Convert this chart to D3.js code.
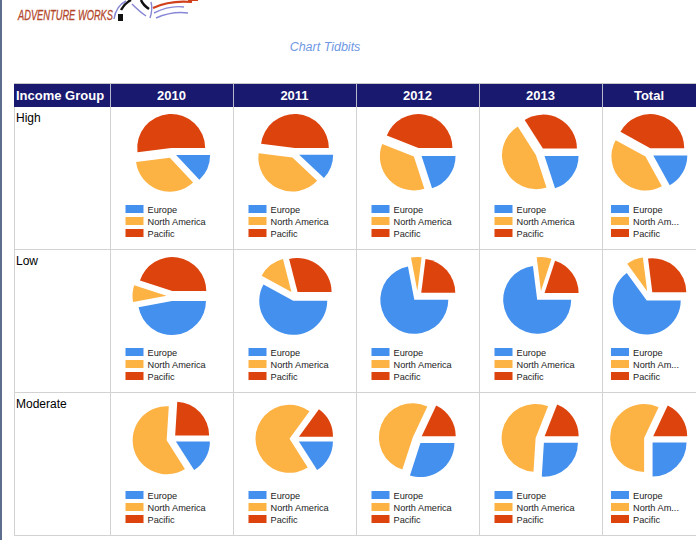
<!DOCTYPE html>
<html>
<head>
<meta charset="utf-8">
<script src="https://cdn.jsdelivr.net/npm/d3@7"></script>
<style>
  body { margin: 0; background: #fff; }
  svg { display: block; font-family: "Liberation Sans", Arial, sans-serif; }
</style>
</head>
<body>
<svg id="chart"></svg>
<script>
// data
const regions = ["Europe", "North America", "Pacific"];
const columns = ["2010", "2011", "2012", "2013", "Total"];
const groups = ["High", "Low", "Moderate"];

// shares per column, in region order [Europe, North America, Pacific]
const highShares = [[13, 35, 52], [12, 40, 48], [20, 36, 44], [20, 46, 34], [17, 41, 42]];
const lowShares = [[47, 8, 45], [58, 13, 29], [72, 5, 23], [73, 7, 20], [65, 8, 27]];
const moderateShares = [[16, 60, 24], [16, 69, 15], [30, 52, 18], [26, 55, 19], [25, 57, 18]];
const sharesByGroup = [highShares, lowShares, moderateShares];

const colors = ["#4390ee", "#fdb244", "#dd430d"];

const width = 696, height = 540;
const svg = d3.select("#chart").attr("width", width).attr("height", height);

const color = d3.scaleOrdinal().domain(regions).range(colors);

// table layout
const colEdges = [14, 110, 233, 356, 479, 602, 696];
const headerTop = 84, headerBottom = 107;
const y = d3.scaleBand().domain(groups).range([107, 536]);

// left window edge
svg.append("rect").attr("x", 0).attr("y", 0).attr("width", 2).attr("height", height).attr("fill", "#5d6d8e");

// logo
const logo = svg.append("g");
logo.append("text")
  .attr("x", 18).attr("y", 20)
  .attr("textLength", 95).attr("lengthAdjust", "spacingAndGlyphs")
  .attr("font-size", 14).attr("font-style", "italic")
  .attr("fill", "#b4472b").attr("stroke", "#b4472b").attr("stroke-width", 0.3)
  .text("ADVENTURE WORKS");
logo.append("rect").attr("x", 118).attr("y", 14).attr("width", 5).attr("height", 7).attr("fill", "#111");
logo.append("path").attr("d", "M121,10 Q125,3 131,0 M141,0 Q143,5 149,9")
  .attr("stroke", "#111").attr("stroke-width", 2.5).attr("fill", "none");
logo.append("path").attr("d", "M114,19 Q116,6 126,1 M132,4 Q140,12 146,16 M151,2 Q153,9 150,18")
  .attr("stroke", "#8585d4").attr("stroke-width", 1.4).attr("fill", "none");
logo.append("path").attr("d", "M154,13 Q170,5 184,7 M156,18 Q172,11 188,13")
  .attr("stroke", "#8888d8").attr("stroke-width", 1.4).attr("fill", "none");
logo.append("path").attr("d", "M153,8 Q170,0 192,2 M188,0 L198,0")
  .attr("stroke", "#d0401c").attr("stroke-width", 2.2).attr("fill", "none");

// title
svg.append("text")
  .attr("x", 325).attr("y", 51)
  .attr("text-anchor", "middle")
  .attr("font-size", 12.5).attr("font-style", "italic")
  .attr("fill", "#6f99e4")
  .text("Chart Tidbits");

// header row
svg.append("rect")
  .attr("x", colEdges[0]).attr("y", headerTop)
  .attr("width", colEdges[6] - colEdges[0]).attr("height", headerBottom - headerTop)
  .attr("fill", "#191970");
svg.append("line").attr("x1", colEdges[0]).attr("x2", width).attr("y1", headerTop - 0.5).attr("y2", headerTop - 0.5)
  .attr("stroke", "#c8c8c8");

const headers = ["Income Group"].concat(columns);
headers.forEach((h, i) => {
  const x0 = colEdges[i], x1 = colEdges[i + 1];
  svg.append("text")
    .attr("x", i === 0 ? x0 + 2 : (x0 + x1) / 2)
    .attr("y", 100)
    .attr("text-anchor", i === 0 ? "start" : "middle")
    .attr("font-size", 13).attr("font-weight", "bold")
    .attr("fill", "#fff")
    .text(h);
  if (i > 0) {
    svg.append("line").attr("x1", x0 + 0.5).attr("x2", x0 + 0.5)
      .attr("y1", headerTop).attr("y2", headerBottom)
      .attr("stroke", "#b8b8cc");
  }
});

// grid lines
const grid = svg.append("g").attr("stroke", "#d2d2d2").attr("stroke-width", 1);
groups.forEach(g => {
  grid.append("line").attr("x1", colEdges[0]).attr("x2", width)
    .attr("y1", y(g) + y.bandwidth() - 0.5).attr("y2", y(g) + y.bandwidth() - 0.5);
});
colEdges.slice(0, 6).forEach(x => {
  grid.append("line").attr("x1", x + 0.5).attr("x2", x + 0.5)
    .attr("y1", headerBottom).attr("y2", 536);
});

// pies
const radius = 34, explode = 5;
const pie = d3.pie().sort(null).startAngle(Math.PI / 2).endAngle(Math.PI / 2 + 2 * Math.PI);
const arc = d3.arc().innerRadius(0).outerRadius(radius);

groups.forEach((g, gi) => {
  const top = y(g);
  svg.append("text")
    .attr("x", 16).attr("y", top + 15)
    .attr("font-size", 12).attr("fill", "#000")
    .text(g);

  columns.forEach((c, ci) => {
    const x0 = colEdges[ci + 1], x1 = colEdges[ci + 2];
    const cx = (x0 + x1) / 2;
    const cw = x1 - x0;
    const values = sharesByGroup[gi][ci];
    const data = regions.map((r, k) => ({ region: r, value: values[k] }));

    const pg = svg.append("g").attr("transform", `translate(${cx},${top + 46})`);
    pg.selectAll("path")
      .data(pie.value(d => d.value)(data))
      .join("path")
      .attr("d", arc)
      .attr("fill", d => color(d.data.region))
      .attr("transform", d => {
        const a = (d.startAngle + d.endAngle) / 2;
        return `translate(${Math.sin(a) * explode},${-Math.cos(a) * explode})`;
      });

    // legend
    const lx = cx - Math.min(46, cw / 2 - 9);
    const maxText = x1 - 15 - (lx + 22);
    const lg = svg.append("g").attr("transform", `translate(${lx},${top + 98})`);
    regions.forEach((r, k) => {
      lg.append("rect").attr("x", 0).attr("y", k * 12)
        .attr("width", 18).attr("height", 8).attr("fill", color(r));
      const t = lg.append("text").attr("x", 22).attr("y", k * 12 + 8)
        .attr("font-size", 9.2).attr("fill", "#222").text(r);
      if (t.node().getComputedTextLength() > maxText) {
        let s = r;
        while (s.length > 1) {
          s = s.slice(0, -1);
          t.text(s.trimEnd() + "...");
          if (t.node().getComputedTextLength() <= maxText) break;
        }
      }
    });
  });
});
</script>
</body>
</html>
